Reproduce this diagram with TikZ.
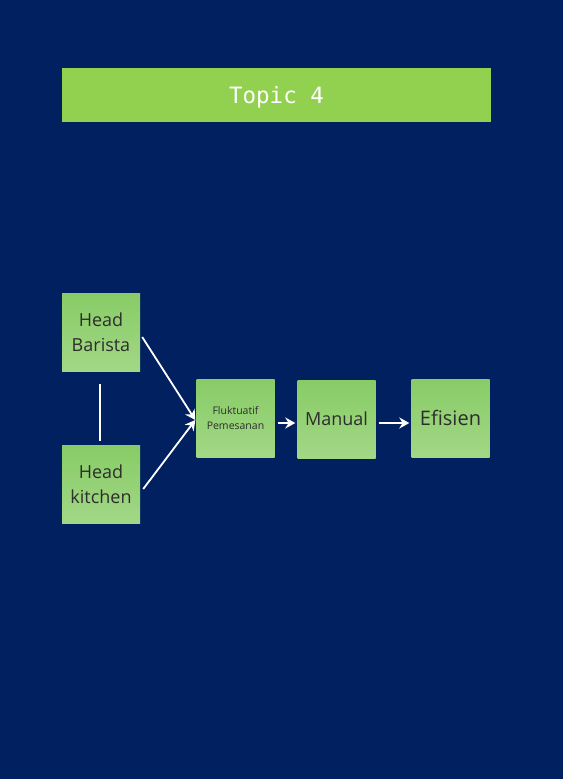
\documentclass[tikz,border=0pt]{standalone}
\usepackage{fontspec}
\setmainfont{Open Sans}
\newfontfamily\topicfont{DejaVu Sans Mono}
\usepackage{tikz}
\usetikzlibrary{arrows.meta}

\definecolor{fondo}{RGB}{0,32,96}
\definecolor{barra}{RGB}{146,208,80}
\definecolor{notaarriba}{RGB}{136,204,102}
\definecolor{notaabajo}{RGB}{162,215,134}
\definecolor{texto}{RGB}{45,45,45}

\tikzset{
	nota/.style={rectangle, minimum width=78pt, minimum height=78pt, inner sep=0pt,
		top color=notaarriba, bottom color=notaabajo, text=texto, align=center,
		font=\fontsize{18}{25}\selectfont},
	flecha/.style={draw=white, line width=1.8pt, -{Stealth[length=10pt,width=11pt]}},
	linea/.style={draw=white, line width=1.8pt}
}

\begin{document}
\begin{tikzpicture}[x=1pt,y=-1pt]

		% Fondo
		\fill[fondo] (0,0) rectangle (563,779);
		\useasboundingbox (0,0) rectangle (563,779);

		% Nodos
		\node[rectangle, fill=barra, minimum width=429pt, minimum height=54pt, text=white, text depth=0pt,
			font=\topicfont\fontsize{22.5}{24}\selectfont] (topic) at (276.5,95) {Topic 4};

		\node[nota] (barista) at (101,332) {Head\\Barista};
		\node[nota] (kitchen) at (101,484.5) {Head\\kitchen};
		\node[nota, font=\fontsize{10.5}{15}\selectfont] (fluktuatif) at (235.5,418) {Fluktuatif\\Pemesanan};
		\node[nota] (manual) at (336.5,419) {Manual};
		\node[nota, font=\fontsize{20}{24}\selectfont] (efisien) at (450.5,418) {Efisien};

		\coordinate (masuk) at ([xshift=-1pt,yshift=-2pt]fluktuatif.west);

		% Aristas
		\draw[linea] ([xshift=-1pt,yshift=-13pt]barista.south) -- ([xshift=-1pt,yshift=4pt]kitchen.north);
		\draw[flecha] ([xshift=2pt,yshift=-5pt]barista.east) -- (masuk);
		\draw[flecha] ([xshift=3pt,yshift=-4.5pt]kitchen.east) -- (masuk);
		\draw[flecha] ([xshift=3pt,yshift=-5pt]fluktuatif.east) -- ([xshift=-2pt,yshift=-4pt]manual.west);
		\draw[flecha] ([xshift=3pt,yshift=-4pt]manual.east) -- ([xshift=-2pt,yshift=-5pt]efisien.west);

	\end{tikzpicture}
\end{document}
